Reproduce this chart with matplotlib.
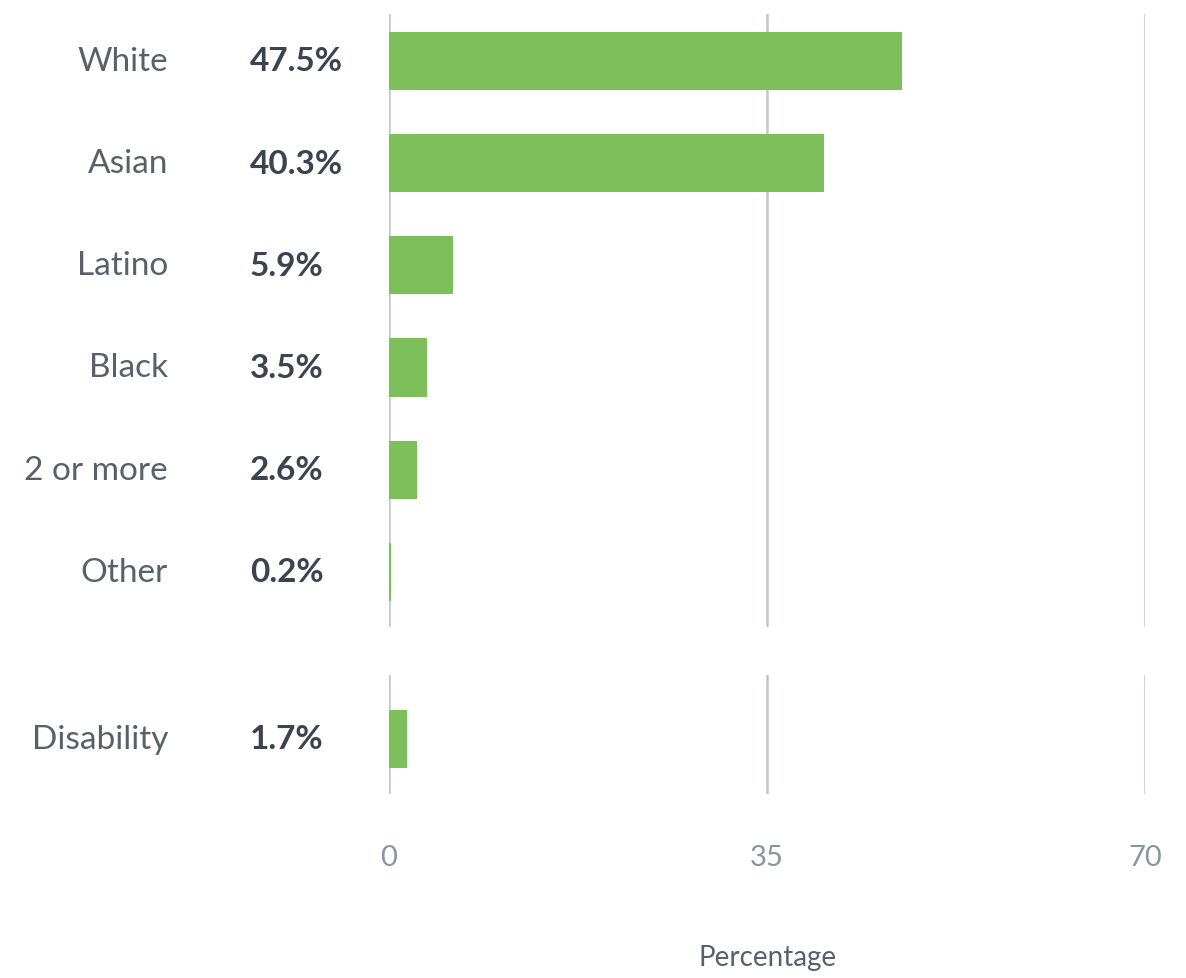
import matplotlib
matplotlib.use("Agg")
import matplotlib.pyplot as plt
from matplotlib.transforms import blended_transform_factory

categories = ["White", "Asian", "Latino", "Black", "2 or more", "Other"]
values = [47.5, 40.3, 5.9, 3.5, 2.6, 0.2]
value_labels = ["47.5%", "40.3%", "5.9%", "3.5%", "2.6%", "0.2%"]
extra_category = ["Disability"]
extra_values = [1.7]
extra_labels = ["1.7%"]
xticks = [0, 35, 70]
xlabel = "Percentage"

FONT = ["Lato", "DejaVu Sans"]
BAR = "#7dbf5b"
GRID = "#c0c6ce"
CAT_C = "#5a606b"
VAL_C = "#3c4350"
TICK_C = "#8a93a0"

W, H = 1186, 979
fig = plt.figure(figsize=(W / 100, H / 100), dpi=100)

def fx(px):
    return px / W

def fy(py):
    return 1 - py / H

ax1 = fig.add_axes([fx(389), fy(628), fx(1145) - fx(389), fy(15) - fy(628)])
ax2 = fig.add_axes([fx(389), fy(795), fx(1145) - fx(389), fy(676) - fy(795)])

def style(ax, cats, vals, labs, ylim):
    y = list(range(len(cats)))
    ax.barh(y, vals, height=0.57, color=BAR, zorder=3)
    ax.set_xlim(0, 70)
    ax.set_ylim(*ylim)
    for s in ax.spines.values():
        s.set_visible(False)
    ax.set_yticks([])
    ax.set_xticks(xticks)
    ax.tick_params(axis="x", length=0, labelbottom=False)
    ax.grid(axis="x", color=GRID, linewidth=1.8, zorder=0)
    tr = blended_transform_factory(fig.transFigure, ax.transData)
    for yi, c, l in zip(y, cats, labs):
        ax.text(fx(168), yi, c, transform=tr, ha="right", va="center",
                fontsize=24, color=CAT_C, family=FONT)
        ax.text(fx(250), yi, l, transform=tr, ha="left", va="center",
                fontsize=24, color=VAL_C, fontweight="bold", family=FONT)

style(ax1, categories, values, value_labels, (5.54, -0.46))
style(ax2, extra_category, extra_values, extra_labels, (0.539, -0.627))

ax2.tick_params(axis="x", labelbottom=True, pad=36, labelsize=21, labelcolor=TICK_C)
for t in ax2.get_xticklabels():
    t.set_family(FONT)

fig.text(fx(768), fy(958), xlabel, ha="center", va="center", fontsize=20,
         color="#5a606b", family=FONT)

fig.savefig("out.png", dpi=100, facecolor="white")
